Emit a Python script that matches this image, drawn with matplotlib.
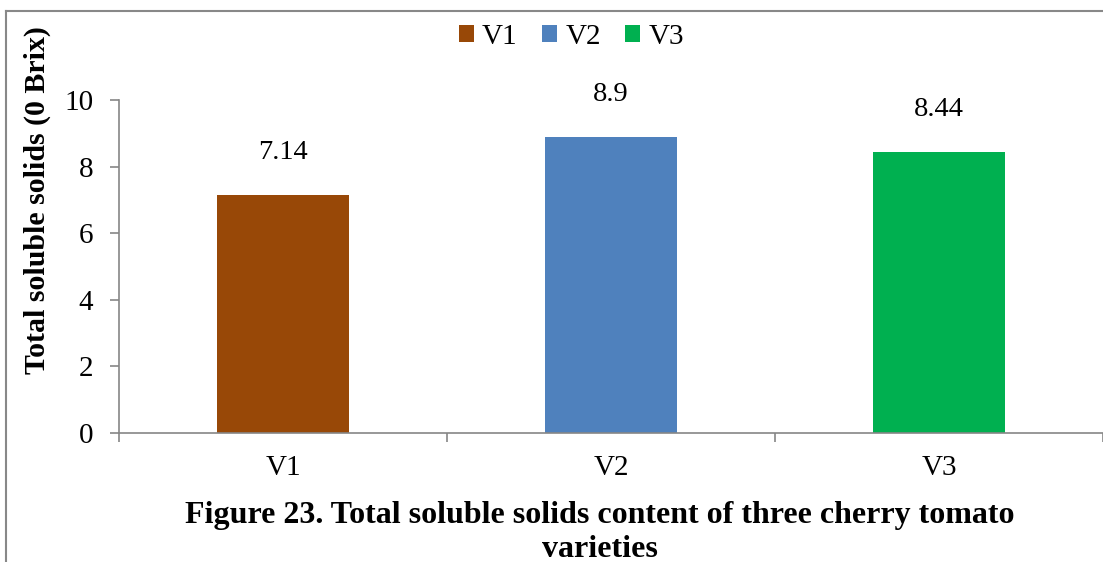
import matplotlib.pyplot as plt
from matplotlib.lines import Line2D
from matplotlib.patches import Patch

# Total soluble solids per variety
varieties = ['V1', 'V2', 'V3']
tss_values = [7.14, 8.9, 8.44]
bar_colors = ['#984807', '#4F81BD', '#00B050']
y_ticks = [0, 2, 4, 6, 8, 10]

plt.rcParams['font.family'] = ['Liberation Serif', 'DejaVu Serif']
axis_gray = '#868686'

fig = plt.figure(figsize=(11.03, 5.62), dpi=100)
ax = fig.add_axes([0.1079, 0.2302, 0.8921, 0.822 - 0.2302])

x = list(range(len(varieties)))
ax.bar(x, tss_values, width=0.4, color=bar_colors, zorder=2)

# value labels above each bar
for xi, v in zip(x, tss_values):
    ax.annotate(f'{v:g}', (xi, v), xytext=(0, 26), textcoords='offset points',
                ha='center', va='baseline', fontsize=20.5)

ax.set_xlim(-0.5, 2.5)
ax.set_ylim(0, 10)
ax.set_yticks(y_ticks)
ax.set_xticks(x)
ax.set_xticklabels(varieties)
ax.set_xticks([-0.5, 0.5, 1.5, 2.5], minor=True)
ax.tick_params(axis='x', which='major', length=0, pad=16, labelsize=21)
ax.tick_params(axis='x', which='minor', length=6.5, width=1.2, color=axis_gray, direction='out')
ax.tick_params(axis='y', length=6.5, width=1.2, color=axis_gray, labelsize=21, pad=12)

for side in ['top', 'right']:
    ax.spines[side].set_visible(False)
for side in ['left', 'bottom']:
    ax.spines[side].set_color(axis_gray)
    ax.spines[side].set_linewidth(1.2)

fig.text(0.0335, 0.644, 'Total soluble solids (0 Brix)', rotation=90,
         ha='center', va='center', fontsize=21.5, fontweight='bold')

handles = [Patch(facecolor=c, label=n) for c, n in zip(bar_colors, varieties)]
fig.legend(handles=handles, loc='center', bbox_to_anchor=(0.518, 0.935), ncol=3,
           frameon=False, fontsize=21, handlelength=0.52, handleheight=0.52,
           handletextpad=0.28, columnspacing=0.83, borderpad=0)

# caption in two lines
fig.text(0.544, 0.0694, 'Figure 23. Total soluble solids content of three cherry tomato',
         ha='center', va='baseline', fontsize=23, fontweight='bold')
fig.text(0.544, 0.0089, 'varieties',
         ha='center', va='baseline', fontsize=23, fontweight='bold')

# outer frame on the left and top edges
fig.add_artist(Line2D([0.005, 0.005], [0, 0.981], transform=fig.transFigure,
                      color='#888888', lw=1.5))
fig.add_artist(Line2D([0.005, 1.0], [0.981, 0.981], transform=fig.transFigure,
                      color='#888888', lw=1.5))

fig.savefig('out.png', dpi=100)
